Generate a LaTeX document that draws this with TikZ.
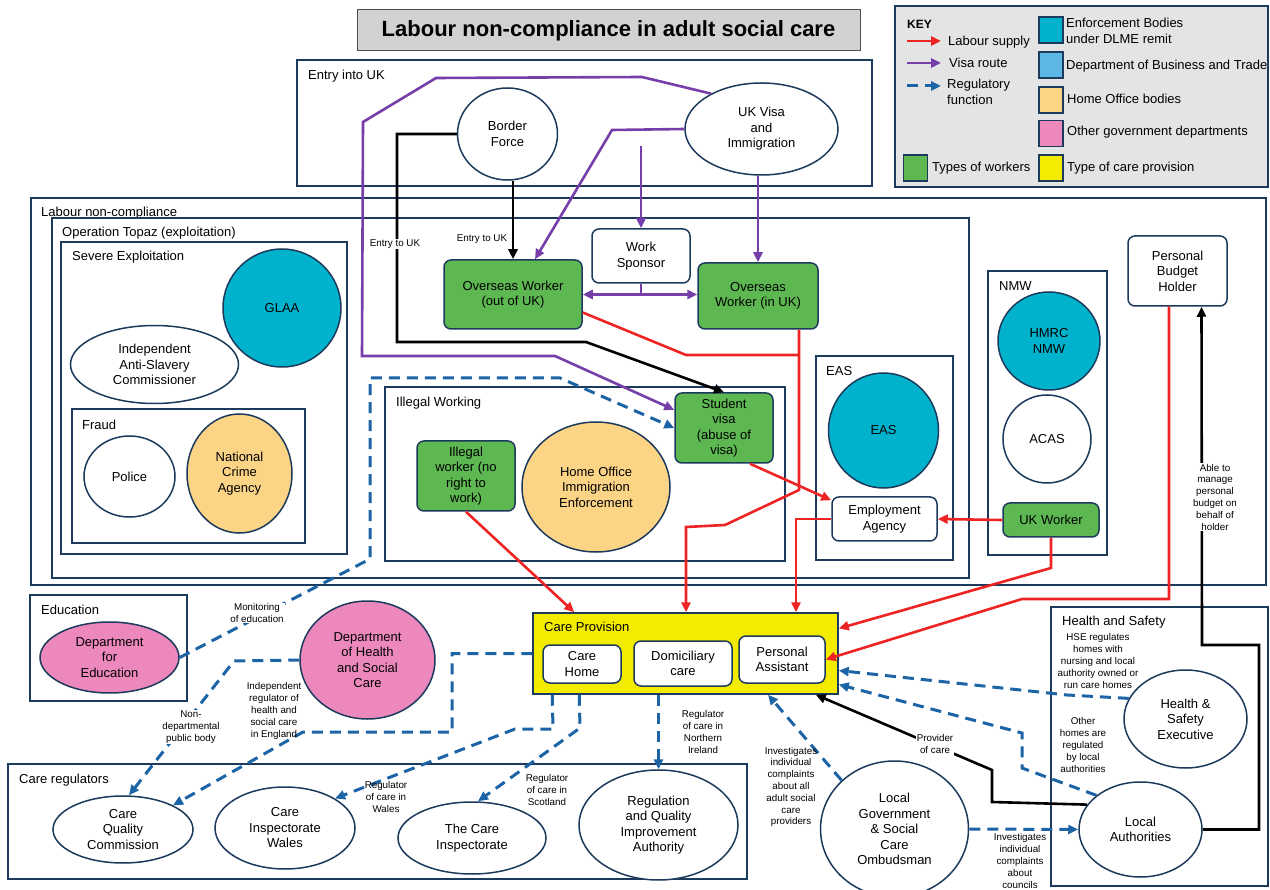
\documentclass[tikz,border=0pt]{standalone}
\usepackage{fontspec}
\setmainfont{Liberation Sans}
\usetikzlibrary{shapes.geometric,arrows.meta}
\definecolor{navy}{RGB}{28,58,92}
\definecolor{cyanb}{RGB}{0,178,204}
\definecolor{lblue}{RGB}{92,182,230}
\definecolor{orng}{RGB}{252,212,134}
\definecolor{pnk}{RGB}{236,136,188}
\definecolor{grn}{RGB}{94,184,82}
\definecolor{yel}{RGB}{244,236,0}
\definecolor{redl}{RGB}{238,36,36}
\definecolor{purp}{RGB}{118,62,168}
\definecolor{regb}{RGB}{28,100,165}
\definecolor{titleg}{RGB}{210,210,210}
\definecolor{keyg}{RGB}{228,228,228}
\newcommand{\fmain}{\fontsize{13}{15.5}\selectfont}
\newcommand{\fsml}{\fontsize{9.8}{11.8}\selectfont}
\tikzset{
 nbase/.style={font=\fmain, align=center, text=black, inner sep=0pt},
 ell/.style={nbase, ellipse, draw=navy, line width=1.5pt},
 rbox/.style={nbase, rectangle, rounded corners=7pt, draw=navy, line width=1.5pt},
 cont/.style={rectangle, draw=navy, line width=1.5pt, inner sep=0pt},
 clab/.style={font=\fmain, anchor=west, inner sep=0pt},
 slab/.style={font=\fsml, align=center, inner sep=1pt},
 wfill/.style={fill=white},
 lsup/.style={draw=redl, line width=2.6pt},
 visr/.style={draw=purp, line width=2.6pt},
 blk/.style={draw=black, line width=2.6pt},
 reg/.style={draw=regb, line width=3pt, dash pattern=on 11pt off 7pt},
 arr/.style={-{Triangle[length=10pt,width=9pt]}},
 darr/.style={{Triangle[length=10pt,width=9pt]}-{Triangle[length=10pt,width=9pt]}},
 swatch/.style={rectangle, draw=navy, line width=1.5pt, minimum width=24pt, minimum height=26pt, inner sep=0pt},
}
\begin{document}
\begin{tikzpicture}[x=1pt,y=-1pt]
\useasboundingbox (0,0) rectangle (1270,890);
\fill[white] (0,0) rectangle (1270,890);

% title
\node[draw=black!70, fill=titleg, line width=1pt, minimum width=503pt, minimum height=41pt, inner sep=0pt, font=\fontsize{22}{26}\selectfont\bfseries] (title) at (608.5,30.5) {Labour non-compliance in adult social care};

% key
\node[cont, fill=keyg, line width=2pt, minimum width=373pt, minimum height=181pt] (key) at (1081.5,96.5) {};
\node[anchor=west, inner sep=0pt, font=\fontsize{12}{14}\selectfont\bfseries] (keyt) at (907,24) {KEY};
\coordinate (ka1) at (907,41); \coordinate (kb1) at (941,41);
\coordinate (ka2) at (907,63); \coordinate (kb2) at (941,63);
\coordinate (ka3) at (907,86); \coordinate (kb3) at (941,86);
\draw[lsup,arr] (ka1) -- (kb1);
\draw[visr,arr] (ka2) -- (kb2);
\draw[reg,arr] (ka3) -- (kb3);
\node[clab] (kt1) at (948,42) {Labour supply};
\node[clab] (kt2) at (949,63) {Visa route};
\node[clab, align=left] (kt3) at (947,92) {Regulatory\\function};
\node[swatch, fill=cyanb] (sw1) at (1051,30) {};
\node[swatch, fill=lblue] (sw2) at (1051,65) {};
\node[swatch, fill=orng] (sw3) at (1051,100) {};
\node[swatch, fill=pnk] (sw4) at (1051,133.5) {};
\node[swatch, fill=yel] (sw5) at (1051,168) {};
\node[swatch, fill=grn] (sw6) at (915.5,168) {};
\node[clab, align=left] (kt4) at (1066,31) {Enforcement Bodies\\under DLME remit};
\node[clab] (kt5) at (1066,66) {Department of Business and Trade};
\node[clab] (kt6) at (1067,99) {Home Office bodies};
\node[clab] (kt7) at (1067,132) {Other government departments};
\node[clab] (kt8) at (1067,168) {Type of care provision};
\node[clab] (kt9) at (932,168) {Types of workers};

% containers
\node[cont, minimum width=575pt, minimum height=126pt] (entry) at (584.5,123) {};
\node[clab] (entryl) at (308,76) {Entry into UK};
\node[cont, minimum width=1235pt, minimum height=387pt] (lnc) at (648.5,391.5) {};
\node[clab] (lncl) at (41,213) {Labour non-compliance};
\node[cont, minimum width=917pt, minimum height=360pt] (topaz) at (510.5,398) {};
\node[clab] (topazl) at (62,233) {Operation Topaz (exploitation)};
\node[cont, minimum width=286pt, minimum height=312pt] (severe) at (204,398) {};
\node[clab] (severel) at (72,257) {Severe Exploitation};
\node[cont, minimum width=233pt, minimum height=134pt] (fraud) at (188.5,476) {};
\node[clab] (fraudl) at (82,425) {Fraud};
\node[cont, minimum width=400pt, minimum height=174pt] (illegal) at (585,474) {};
\node[clab] (illegall) at (396,403) {Illegal Working};
\node[cont, minimum width=137pt, minimum height=204pt] (easb) at (884.5,458) {};
\node[clab] (easl) at (826,371) {EAS};
\node[cont, minimum width=119pt, minimum height=284pt] (nmw) at (1047.5,413) {};
\node[clab] (nmwl) at (999,286) {NMW};
\node[cont, minimum width=157pt, minimum height=106pt] (educ) at (108.5,648) {};
\node[clab] (educl) at (41,610) {Education};
\node[cont, minimum width=739pt, minimum height=115pt] (careg) at (377.5,821.5) {};
\node[clab] (caregl) at (19,780) {Care regulators};
\node[cont, minimum width=217pt, minimum height=279pt] (hs) at (1159.5,746.5) {};
\node[clab] (hsl) at (1062,622) {Health and Safety};
\node[cont, fill=yel, minimum width=305pt, minimum height=81pt] (cp) at (685.5,653.5) {};
\node[clab] (cpl) at (544,627) {Care Provision};

% nodes
\node[ell, minimum width=100pt, minimum height=92pt] (bf) at (507.5,134) {Border\\Force};
\node[ell, minimum width=153pt, minimum height=92pt] (ukvi) at (761.5,129) {UK Visa\\and\\Immigration};
\node[ell, fill=cyanb, minimum width=118pt, minimum height=118pt] (glaa) at (282,308) {GLAA};
\node[ell, minimum width=168pt, minimum height=78pt] (iasc) at (154.5,364.5) {Independent\\Anti-Slavery\\Commissioner};
\node[ell, minimum width=91pt, minimum height=81pt] (police) at (129.5,476.5) {Police};
\node[ell, fill=orng, minimum width=105pt, minimum height=119pt] (nca) at (239.5,473.5) {National\\Crime\\Agency};
\node[rbox, fill=grn, minimum width=138pt, minimum height=69pt] (ow) at (513,294.5) {Overseas Worker\\(out of UK)};
\node[rbox, fill=white, minimum width=98pt, minimum height=54pt] (ws) at (641,256) {Work\\Sponsor};
\node[rbox, fill=grn, minimum width=120pt, minimum height=66pt] (oi) at (758,296) {Overseas\\Worker (in UK)};
\node[rbox, fill=grn, minimum width=98pt, minimum height=70pt] (iw) at (466,476) {Illegal\\worker (no\\right to\\work)};
\node[ell, fill=orng, minimum width=148pt, minimum height=130pt] (hoie) at (596,487) {Home Office\\Immigration\\Enforcement};
\node[rbox, fill=grn, minimum width=98pt, minimum height=70pt] (sv) at (724,428) {Student\\visa\\(abuse of\\visa)};
\node[ell, fill=cyanb, minimum width=110pt, minimum height=115pt] (easc) at (883.5,430.5) {EAS};
\node[rbox, fill=white, minimum width=105pt, minimum height=44pt] (ea) at (884.5,519) {Employment\\Agency};
\node[ell, fill=cyanb, minimum width=102pt, minimum height=98pt] (hmrc) at (1049,341) {HMRC\\NMW};
\node[ell, minimum width=88pt, minimum height=88pt] (acas) at (1047,439) {ACAS};
\node[rbox, fill=grn, minimum width=96pt, minimum height=34pt] (ukw) at (1051,520) {UK Worker};
\node[rbox, fill=white, minimum width=99pt, minimum height=70pt] (pbh) at (1177.5,271) {Personal\\Budget\\Holder};
\node[rbox, fill=white, minimum width=78pt, minimum height=38pt] (ch) at (582,664) {Care\\Home};
\node[rbox, fill=white, minimum width=98pt, minimum height=45pt] (dc) at (683,663.5) {Domiciliary\\care};
\node[rbox, fill=white, minimum width=86pt, minimum height=47pt] (pa) at (782,659.5) {Personal\\Assistant};
\node[ell, fill=pnk, minimum width=139pt, minimum height=71pt] (dfe) at (109.5,657.5) {Department\\for\\Education};
\node[ell, fill=pnk, minimum width=135pt, minimum height=118pt] (dhsc) at (367.5,660) {Department\\of Health\\and Social\\Care};
\node[ell, fill=white, minimum width=140pt, minimum height=67pt] (cqc) at (123,829.5) {Care\\Quality\\Commission};
\node[ell, fill=white, minimum width=140pt, minimum height=82pt] (ciw) at (285,828) {Care\\Inspectorate\\Wales};
\node[ell, fill=white, minimum width=148pt, minimum height=72pt] (tci) at (472,838) {The Care\\Inspectorate};
\node[ell, fill=white, minimum width=159pt, minimum height=110pt] (rqia) at (658.5,825) {Regulation\\and Quality\\Improvement\\Authority};
\node[ell, fill=white, minimum width=148pt, minimum height=136pt] (omb) at (894.5,829) {Local\\Government\\\& Social\\Care\\Ombudsman};
\node[ell, fill=white, minimum width=123pt, minimum height=98pt] (hse) at (1185.5,719) {Health \&\\Safety\\Executive};
\node[ell, fill=white, minimum width=123pt, minimum height=95pt] (la) at (1140.5,829.5) {Local\\Authorities};

% black connectors
\draw[blk,arr] (ow.north |- bf.south) -- (ow.north);
\draw[blk,arr] (bf.west) -- (397,134) -- (397,342) -- (586,342) -- (sv.north);

% purple connectors
\draw[visr,arr] (ukvi.145) -- (642,77) -- (436,78) -- (363,122) -- (362,356) -- (555,356) -- (sv.160);
\draw[visr,arr] (ukvi.west) -- (612,130) -- ([xshift=22pt]ow.north);
\coordinate (vs) at (641,146);
\draw[visr,arr] (vs) -- (ws.north);
\draw[visr,arr] (oi.north |- ukvi.south) -- (oi.north);
\draw[visr] (ws.south) -- (ws.south |- ow.east);
\draw[visr,darr] (ow.east) -- (oi.west |- ow.east);

% red connectors
\draw[lsup] ([yshift=-18pt]ow.east) -- (686,355) -- (799,355);
\draw[lsup,arr] ([xshift=41pt]oi.south) -- (799,490) -- (725,525) -- (686,527) -- (686,0 |- cp.north);
\draw[lsup,arr] ([xshift=26pt]sv.south) -- ([yshift=-4pt]ea.north west);
\draw[lsup,arr] (ukw.west) -- (ea.east);
\draw[lsup,arr] (ea.west) -- (796,519) -- (796,0 |- cp.north);
\draw[lsup,arr] (ukw.south) -- (1051,568) -- ([yshift=25pt]cp.east);
\draw[lsup,arr] ([xshift=-8.5pt]pbh.south) -- (1169,599) -- (1022,599) -- (pa.east);
\draw[lsup,arr] (iw.south) -- ([xshift=42pt]cp.north west);

% regulatory connectors
\draw[reg,arr] (dfe.east) -- (370,559) -- (370,378) -- (560,378) -- (sv.west);
\draw[reg,arr] (dhsc.west) -- (234,661) -- ([xshift=6pt]cqc.north);
\draw[reg,arr] (cp.west) -- (452,653.5) -- (452,732) -- (303,732) -- (cqc.north east);
\draw[reg,arr] ([xshift=20pt]cp.south west) -- (553,729) -- (515,729) -- (ciw.north east);
\draw[reg,arr] ([xshift=47pt]cp.south west) -- (580,728) -- ([xshift=6pt]tci.north);
\draw[reg,arr] (rqia.north |- cp.south) -- (rqia.north);
\draw[reg,arr] (omb.north west) -- (768,0 |- cp.south);
\draw[reg,arr] (omb.east) -- (la.west);
\draw[reg,arr] (hse.160) -- (1067,695) -- ([yshift=-17pt]cp.east);
\draw[reg,arr] (la.north west) -- (1022,768) -- (1022,733) -- ([yshift=-31pt]cp.east);

% black bottom connectors
\draw[blk,arr] (la.155) -- (992,802) -- (992,770) -- ([xshift=-23pt]cp.south east);
\draw[blk,arr] (la.east) -- (1259,829.5) -- (1259,645) -- (1202,645) -- ([xshift=24pt]pbh.south);

% connector labels
\node[slab,wfill] (l1) at (395,244) {Entry to UK};
\node[slab] (l2) at (482,239) {Entry to UK};
\node[slab,wfill] (l3) at (257,613) {Monitoring\\of education};
\node[slab,wfill] (l4) at (191,727) {Non-\\departmental\\public body};
\node[slab] (l5) at (274,711) {Independent\\regulator of\\health and\\social care\\in England};
\node[slab] (l6) at (386,797) {Regulator\\of care in\\Wales};
\node[slab] (l7) at (547,790) {Regulator\\of care in\\Scotland};
\node[slab] (l8) at (703,732) {Regulator\\of care in\\Northern\\Ireland};
\node[slab] (l9) at (791,787) {Investigates\\individual\\complaints\\about all\\adult social\\care\\providers};
\node[slab] (l10) at (1020,861) {Investigates\\individual\\complaints\\about\\councils};
\node[slab,wfill] (l11) at (935,744) {Provider\\of care};
\node[slab] (l12) at (1098,661) {HSE regulates\\homes with\\nursing and local\\authority owned or\\run care homes};
\node[slab] (l13) at (1083,745) {Other\\homes are\\regulated\\by local\\authorities};
\node[slab,wfill] (l14) at (1215,497) {Able to\\manage\\personal\\budget on\\behalf of\\holder};
\end{tikzpicture}
\end{document}
